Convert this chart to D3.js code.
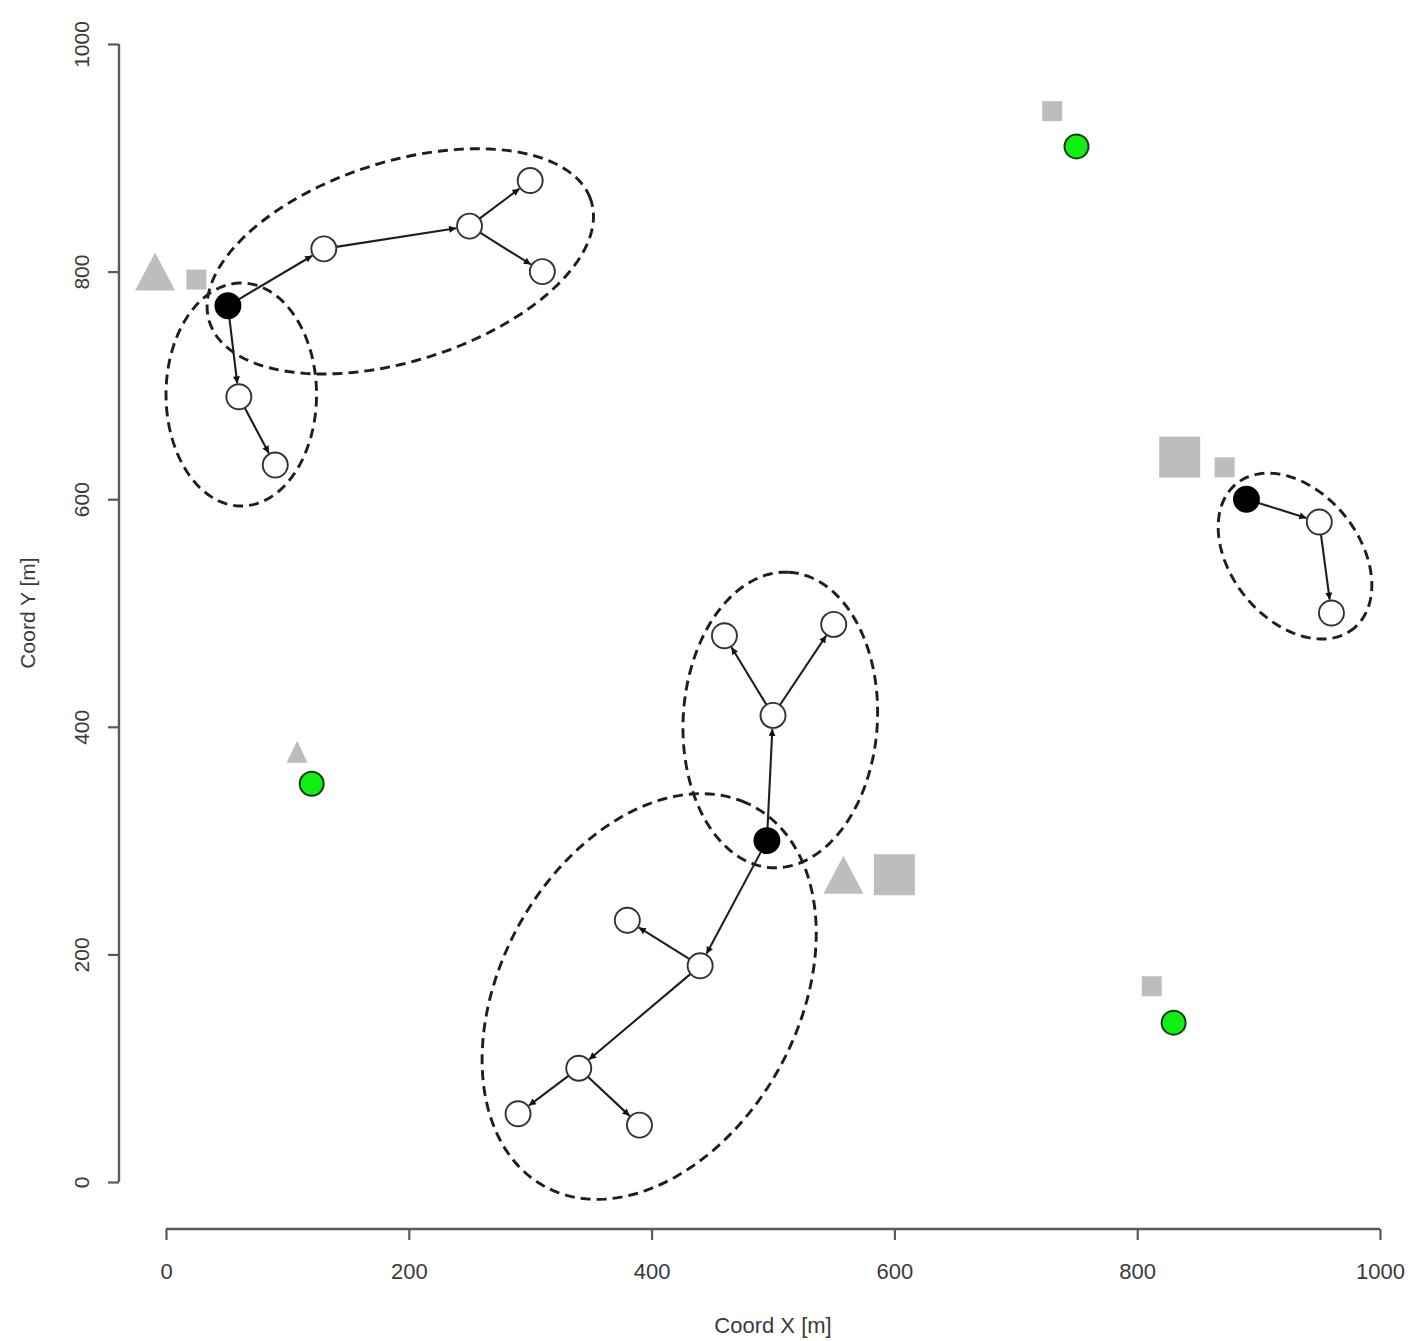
<!DOCTYPE html>
<html>
<head>
<meta charset="utf-8">
<script src="https://cdn.jsdelivr.net/npm/d3@7"></script>
<style>
  html, body { margin: 0; padding: 0; background: #fff; }
  svg { display: block; }
  text { font-family: "Liberation Sans", Arial, sans-serif; fill: #3a3a3a; }
</style>
</head>
<body>
<script>
// ---------------- DATA ----------------
const xTicks = [0, 200, 400, 600, 800, 1000];
const yTicks = [0, 200, 400, 600, 800, 1000];
const xLabel = "Coord X [m]";
const yLabel = "Coord Y [m]";

// network nodes: id, x, y, kind (root = black, node = white)
const nodeIds   = ["a0","a1","a2","a3","a4","a5","a6",
                   "b0","b1","b2","b3","b4","b5","b6","b7","b8",
                   "c0","c1","c2"];
const nodeX     = [51, 60, 90, 130, 250, 300, 310,
                   495, 500, 460, 550, 440, 380, 340, 290, 390,
                   890, 950, 960];
const nodeY     = [770, 690, 630, 820, 840, 880, 800,
                   300, 410, 480, 490, 190, 230, 100, 60, 50,
                   600, 580, 500];
const nodeKind  = ["root","node","node","node","node","node","node",
                   "root","node","node","node","node","node","node","node","node",
                   "root","node","node"];

// directed edges (source -> target)
const edgeFrom = ["a0","a1","a0","a3","a4","a4",
                  "b0","b1","b1","b0","b4","b4","b6","b6",
                  "c0","c1"];
const edgeTo   = ["a1","a2","a3","a4","a5","a6",
                  "b1","b2","b3","b4","b5","b6","b7","b8",
                  "c1","c2"];

// green sites
const greenX = [750, 120, 830];
const greenY = [910, 350, 140];

// gray squares (size class: big / small)
const sqX    = [25, 730, 835, 872, 812, 600];
const sqY    = [793, 941, 637, 628, 172, 270];
const sqSize = ["small","small","big","small","small","big"];

// gray triangles
const triX    = [-9, 108, 558];
const triY    = [800, 378, 270];
const triSize = ["big","small","big"];

// dashed cluster ellipses (data units): centre, semi-axes, rotation (deg)
const ellCx    = [193, 62, 398, 506, 930];
const ellCy    = [809, 692, 163, 406, 550];
const ellA     = [166, 98, 188, 130, 80];
const ellB     = [87, 62, 124, 80, 54];
const ellAngle = [19.5, 90, 65, 87, -56];

// ---------------- LAYOUT ----------------
const W = 1415, H = 1341;
const x = d3.scaleLinear().domain([0, 1000]).range([166, 1380]);
const y = d3.scaleLinear().domain([0, 1000]).range([1182, 44]);
const yAxisX = 119;   // pixel position of detached y axis
const xAxisY = 1229;  // pixel position of detached x axis
const R = 12.5;       // node radius

const svg = d3.select("body").append("svg")
  .attr("width", W).attr("height", H);

// ---------------- AXES ----------------
const axisColor = "#5a5a5a";
const gx = svg.append("g").attr("transform", `translate(0,${xAxisY})`)
  .call(d3.axisBottom(x).tickValues(xTicks).tickSize(11).tickPadding(23)
        .tickFormat(d3.format("d")));
gx.select(".domain").attr("stroke", axisColor).attr("stroke-width", 2.4)
  .attr("d", `M${x(0)},0H${x(1000)}`);
gx.selectAll(".tick line").attr("stroke", axisColor).attr("stroke-width", 2.2);
gx.selectAll(".tick text").attr("fill", "#3a3a3a").style("font-size", "22px")
  .attr("dy", "0.71em");

const gy = svg.append("g").attr("transform", `translate(${yAxisX},0)`)
  .call(d3.axisLeft(y).tickValues(yTicks).tickSize(11).tickPadding(0)
        .tickFormat(d3.format("d")));
gy.select(".domain").attr("stroke", axisColor).attr("stroke-width", 2.4)
  .attr("d", `M0,${y(0)}V${y(1000)}`);
gy.selectAll(".tick line").attr("stroke", axisColor).attr("stroke-width", 2.2);
gy.selectAll(".tick text")
  .attr("x", 0).attr("y", 0).attr("dy", null)
  .attr("text-anchor", "middle")
  .attr("transform", "translate(-30,0) rotate(-90)")
  .attr("fill", "#3a3a3a").style("font-size", "21px");

svg.append("text")
  .attr("x", (x(0) + x(1000)) / 2).attr("y", 1333)
  .attr("text-anchor", "middle").style("font-size", "22px")
  .text(xLabel);
svg.append("text")
  .attr("transform", `translate(35,${(y(0) + y(1000)) / 2}) rotate(-90)`)
  .attr("text-anchor", "middle").style("font-size", "21px")
  .text(yLabel);

// ---------------- GRAY MARKERS ----------------
const gray = "#bdbdbd";
const sqPx = { big: 41, small: 20 };
svg.append("g").selectAll("rect")
  .data(d3.range(sqX.length))
  .join("rect")
  .attr("x", i => x(sqX[i]) - sqPx[sqSize[i]] / 2)
  .attr("y", i => y(sqY[i]) - sqPx[sqSize[i]] / 2)
  .attr("width", i => sqPx[sqSize[i]])
  .attr("height", i => sqPx[sqSize[i]])
  .attr("fill", gray);

const triPx = { big: [40, 38], small: [21, 22] };
svg.append("g").selectAll("path")
  .data(d3.range(triX.length))
  .join("path")
  .attr("transform", i => `translate(${x(triX[i])},${y(triY[i])})`)
  .attr("d", i => {
    const [w, h] = triPx[triSize[i]];
    return `M0,${-h / 2}L${w / 2},${h / 2}L${-w / 2},${h / 2}Z`;
  })
  .attr("fill", gray);

// ---------------- ELLIPSES ----------------
const ellLine = d3.line().curve(d3.curveLinearClosed);
svg.append("g").selectAll("path")
  .data(d3.range(ellCx.length))
  .join("path")
  .attr("d", i => {
    const th = ellAngle[i] * Math.PI / 180;
    const pts = d3.range(180).map(k => {
      const t = k / 180 * 2 * Math.PI;
      const dx = ellA[i] * Math.cos(t), dy = ellB[i] * Math.sin(t);
      const ux = ellCx[i] + dx * Math.cos(th) - dy * Math.sin(th);
      const uy = ellCy[i] + dx * Math.sin(th) + dy * Math.cos(th);
      return [x(ux), y(uy)];
    });
    return ellLine(pts);
  })
  .attr("fill", "none")
  .attr("stroke", "#1e1e1e")
  .attr("stroke-width", 2.9)
  .attr("stroke-dasharray", "10,6");

// ---------------- EDGES ----------------
const idx = {};
nodeIds.forEach((id, i) => idx[id] = i);

svg.append("defs").append("marker")
  .attr("id", "arrow")
  .attr("viewBox", "0 0 10 10")
  .attr("refX", 10).attr("refY", 5)
  .attr("markerUnits", "userSpaceOnUse")
  .attr("markerWidth", 9).attr("markerHeight", 7)
  .attr("orient", "auto")
  .append("path").attr("d", "M0,0L10,5L0,10Z").attr("fill", "#111");

svg.append("g").selectAll("line")
  .data(d3.range(edgeFrom.length))
  .join("line")
  .each(function (i) {
    const s = idx[edgeFrom[i]], t = idx[edgeTo[i]];
    const x1 = x(nodeX[s]), y1 = y(nodeY[s]);
    const x2 = x(nodeX[t]), y2 = y(nodeY[t]);
    const L = Math.hypot(x2 - x1, y2 - y1);
    const ux = (x2 - x1) / L, uy = (y2 - y1) / L;
    d3.select(this)
      .attr("x1", x1 + ux * R).attr("y1", y1 + uy * R)
      .attr("x2", x2 - ux * (R + 1)).attr("y2", y2 - uy * (R + 1));
  })
  .attr("stroke", "#1e1e1e")
  .attr("stroke-width", 2.1)
  .attr("marker-end", "url(#arrow)");

// ---------------- NODES ----------------
svg.append("g").selectAll("circle")
  .data(d3.range(nodeIds.length))
  .join("circle")
  .attr("cx", i => x(nodeX[i]))
  .attr("cy", i => y(nodeY[i]))
  .attr("r", R)
  .attr("fill", i => nodeKind[i] === "root" ? "#000" : "#fff")
  .attr("stroke", i => nodeKind[i] === "root" ? "#000" : "#333")
  .attr("stroke-width", 1.9);

// ---------------- GREEN SITES ----------------
svg.append("g").selectAll("circle")
  .data(d3.range(greenX.length))
  .join("circle")
  .attr("cx", i => x(greenX[i]))
  .attr("cy", i => y(greenY[i]))
  .attr("r", 12)
  .attr("fill", "#11ee11")
  .attr("stroke", "#1a3a1a")
  .attr("stroke-width", 2);
</script>
</body>
</html>
